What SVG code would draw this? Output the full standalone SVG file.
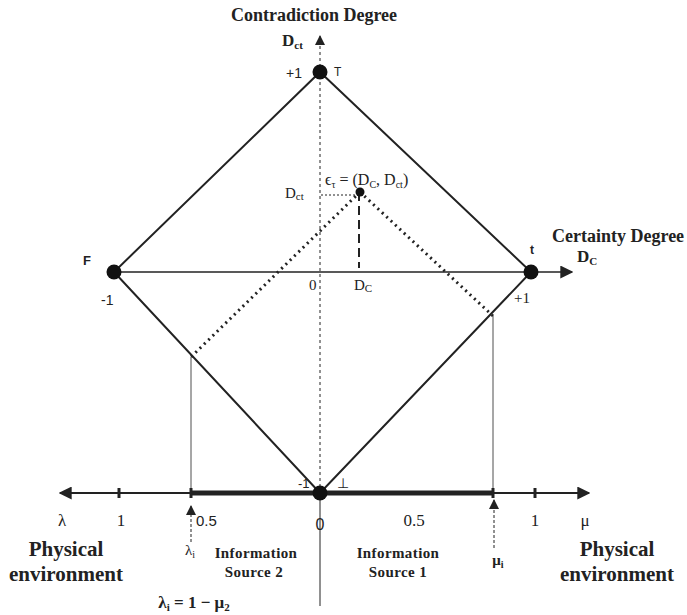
<svg xmlns="http://www.w3.org/2000/svg" width="687" height="615" viewBox="0 0 687 615">
<style>
.s{font-family:"Liberation Serif",serif;fill:#222}
.b{font-family:"Liberation Serif",serif;font-weight:bold;fill:#222}
.a{font-family:"Liberation Sans",sans-serif;fill:#222}
.edge{stroke:#222;fill:none}
</style>
<defs>
<marker id="ar" viewBox="0 0 10 10" refX="9" refY="5" markerWidth="10" markerHeight="10" markerUnits="userSpaceOnUse" orient="auto"><path d="M0,0L10,5L0,10z" fill="#222"/></marker>
<marker id="ar2" viewBox="0 0 10 10" refX="9" refY="5" markerWidth="13" markerHeight="13" markerUnits="userSpaceOnUse" orient="auto"><path d="M0,0L10,5L0,10z" fill="#222"/></marker>
</defs>
<rect width="687" height="615" fill="#fff"/>
<g id="connectors">
<line class="edge" x1="320" y1="493" x2="320" y2="36" stroke-width="1" stroke-dasharray="3,3" marker-end="url(#ar)"/>
<line class="edge" x1="320" y1="493" x2="320" y2="606" stroke-width="1"/>
<line class="edge" x1="121" y1="272" x2="572" y2="272" stroke-width="1.5" marker-end="url(#ar2)"/>
<path class="edge" d="M320,72L531,272L320,493L114,272Z" stroke-width="2"/>
<line class="edge" x1="360" y1="192" x2="191" y2="357" stroke-width="3" stroke-dasharray="2,4"/>
<line class="edge" x1="360" y1="192" x2="493" y2="316" stroke-width="3" stroke-dasharray="2,4"/>
<line class="edge" x1="359" y1="192" x2="359" y2="268" stroke-width="2" stroke-dasharray="9,5"/>
<line class="edge" x1="321" y1="195" x2="358" y2="195" stroke-width="1" stroke-dasharray="2,2"/>
<line class="edge" x1="191" y1="357" x2="191" y2="493" stroke-width="0.8" stroke="#777"/>
<line class="edge" x1="493" y1="316" x2="493" y2="493" stroke-width="0.8" stroke="#777"/>
<line class="edge" x1="320" y1="493" x2="60" y2="493" stroke-width="2" marker-end="url(#ar2)"/>
<line class="edge" x1="320" y1="493" x2="589" y2="493" stroke-width="2" marker-end="url(#ar2)"/>
<line class="edge" x1="191" y1="493" x2="493" y2="493" stroke-width="5"/>
<line class="edge" x1="119" y1="488" x2="119" y2="498" stroke-width="3"/>
<line class="edge" x1="191" y1="488" x2="191" y2="498" stroke-width="3"/>
<line class="edge" x1="493" y1="488" x2="493" y2="498" stroke-width="3"/>
<line class="edge" x1="535" y1="488" x2="535" y2="498" stroke-width="3"/>
<line class="edge" x1="191" y1="542" x2="191" y2="506" stroke-width="1" stroke-dasharray="3,2" marker-end="url(#ar)"/>
<line class="edge" x1="494" y1="548" x2="494" y2="500" stroke-width="1" stroke-dasharray="3,2" marker-end="url(#ar)"/>
</g>
<g id="T"><circle cx="320" cy="72" r="7.5" fill="#111"/><text class="a" x="286" y="78" font-size="14">+1</text><text class="a" x="334" y="76" font-size="12">T</text></g>
<g id="F"><circle cx="114" cy="272" r="7.5" fill="#111"/><text class="a" x="83" y="265" font-size="13" font-weight="bold">F</text><text class="a" x="101" y="305" font-size="14">-1</text></g>
<g id="t"><circle cx="531" cy="272" r="7.5" fill="#111"/><text class="a" x="530" y="254" font-size="12" font-weight="bold">t</text><text class="s" x="514" y="303" font-size="15">+1</text></g>
<g id="bottom"><circle cx="320" cy="493" r="7.5" fill="#111"/><text class="a" x="298" y="488" font-size="13">-1</text><text class="s" x="337" y="488" font-size="14">⊥</text></g>
<g id="eps"><circle cx="360" cy="192" r="4.5" fill="#111"/><text class="s" x="325" y="185" font-size="16">ϵ<tspan font-size="10" dy="3">τ</tspan><tspan dy="-3"> = (D</tspan><tspan font-size="10" dy="3">C</tspan><tspan dy="-3">, D</tspan><tspan font-size="10" dy="3">ct</tspan><tspan dy="-3">)</tspan></text>
<text class="s" x="285" y="198" font-size="15">D<tspan font-size="11" dy="2">ct</tspan></text>
<text class="s" x="309" y="290" font-size="15">0</text>
<text class="s" x="354" y="290" font-size="15">D<tspan font-size="11" dy="2">C</tspan></text></g>
<g id="axis-labels">
<text class="b" x="314" y="21" font-size="18" text-anchor="middle">Contradiction Degree</text>
<text class="b" x="282" y="46" font-size="17">D<tspan font-size="11" dy="3">ct</tspan></text>
<text class="b" x="552" y="242" font-size="18">Certainty Degree</text>
<text class="b" x="577" y="262" font-size="17">D<tspan font-size="11" dy="3">C</tspan></text>
</g>
<g id="scale">
<text class="s" x="62" y="526" font-size="17" text-anchor="middle">λ</text>
<text class="s" x="121" y="526" font-size="17" text-anchor="middle">1</text>
<text class="a" x="196" y="526" font-size="15">0.5</text>
<text class="a" x="320" y="530" font-size="16" text-anchor="middle">0</text>
<text class="s" x="414" y="526" font-size="17" text-anchor="middle">0.5</text>
<text class="s" x="535" y="526" font-size="17" text-anchor="middle">1</text>
<text class="s" x="585" y="526" font-size="17" text-anchor="middle">μ</text>
<text class="s" x="190" y="555" font-size="15" text-anchor="middle">λ<tspan font-size="10" dy="3">i</tspan></text>
<text class="b" x="498" y="565" font-size="15" text-anchor="middle">μ<tspan font-size="10" dy="3">i</tspan></text>
</g>
<g id="labels">
<text class="b" x="66" y="556" font-size="21" text-anchor="middle">Physical</text>
<text class="b" x="66" y="581" font-size="21" text-anchor="middle">environment</text>
<text class="b" x="617" y="556" font-size="21" text-anchor="middle">Physical</text>
<text class="b" x="617" y="581" font-size="21" text-anchor="middle">environment</text>
<text class="b" x="256" y="558" font-size="15" letter-spacing="0.4" text-anchor="middle">Information</text>
<text class="b" x="254" y="577" font-size="15" letter-spacing="0.4" text-anchor="middle">Source 2</text>
<text class="b" x="398" y="558" font-size="15" letter-spacing="0.4" text-anchor="middle">Information</text>
<text class="b" x="398" y="577" font-size="15" letter-spacing="0.4" text-anchor="middle">Source 1</text>
<text class="b" x="194" y="608" font-size="17" text-anchor="middle">λ<tspan font-size="11" dy="3">i</tspan><tspan dy="-3"> = 1 − μ</tspan><tspan font-size="11" dy="3">2</tspan></text>
</g>
</svg>
